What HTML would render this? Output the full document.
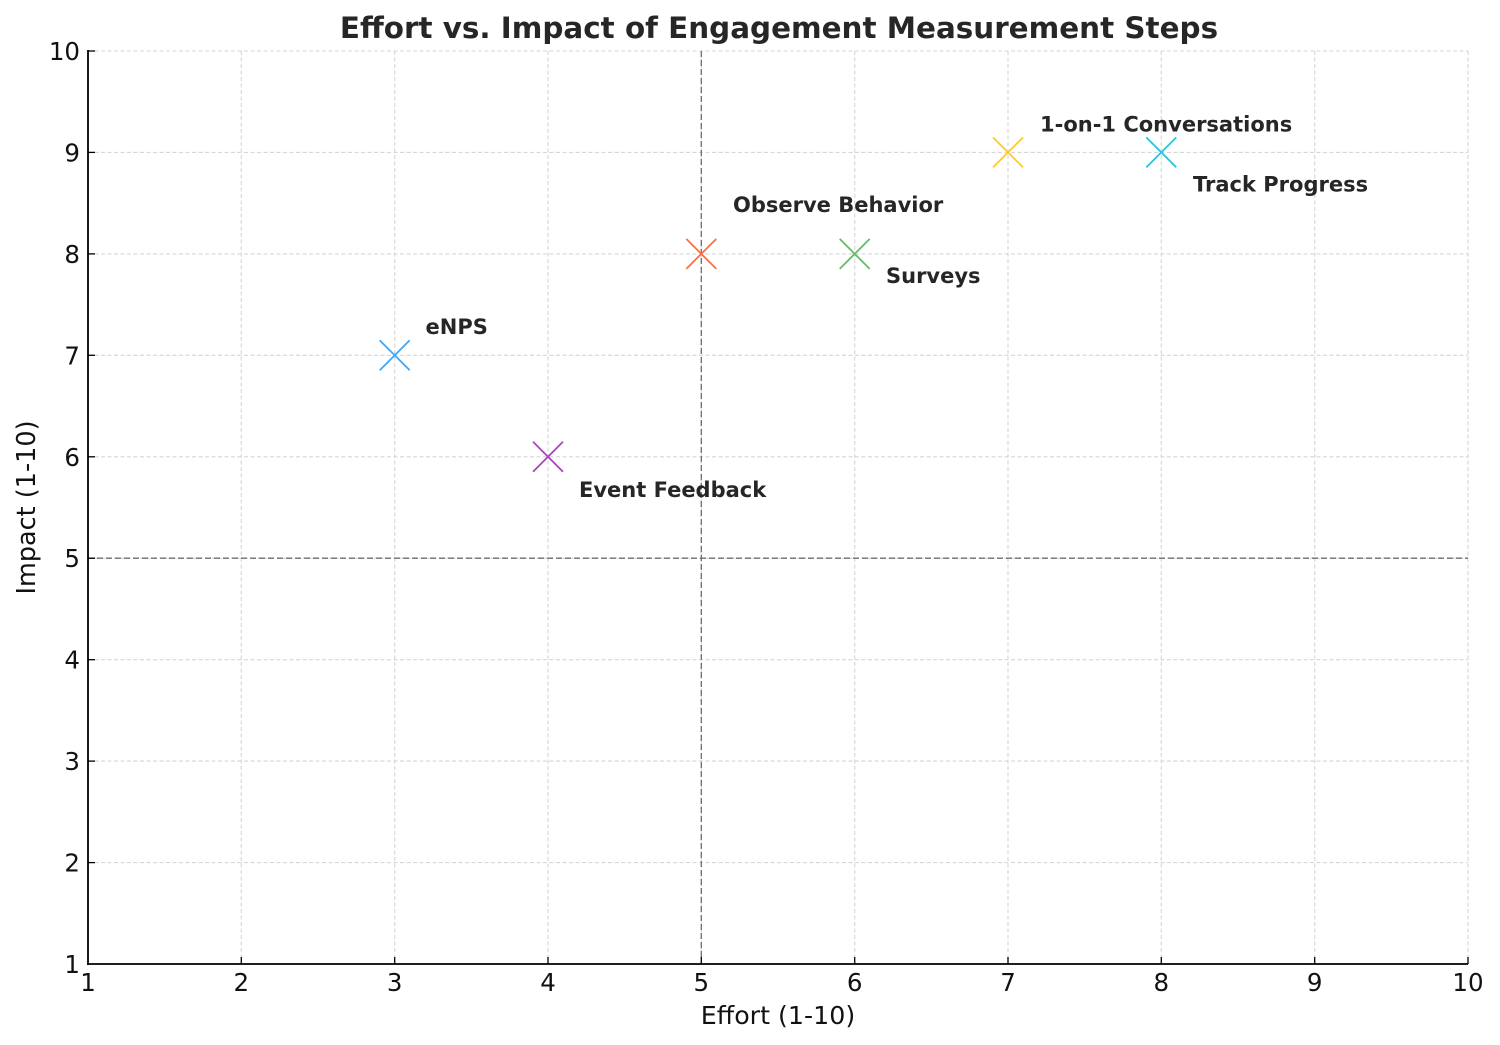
<!DOCTYPE html>
<html>
<head>
<meta charset="utf-8">
<style>
html,body{margin:0;padding:0;background:#fff;}
svg{display:block;}
text{font-family:"DejaVu Sans","Liberation Sans",sans-serif;}
</style>
</head>
<body>
<svg width="1500" height="1045" viewBox="0 0 1500 1045" xmlns="http://www.w3.org/2000/svg">
<rect width="1500" height="1045" fill="#fff"/>
<!-- grid -->
<g stroke="#d6d6d6" stroke-width="1.1" stroke-dasharray="4,2.5" fill="none">
<line x1="241.3" y1="51" x2="241.3" y2="964"/>
<line x1="394.7" y1="51" x2="394.7" y2="964"/>
<line x1="548" y1="51" x2="548" y2="964"/>
<line x1="701.3" y1="51" x2="701.3" y2="964"/>
<line x1="854.7" y1="51" x2="854.7" y2="964"/>
<line x1="1008" y1="51" x2="1008" y2="964"/>
<line x1="1161.3" y1="51" x2="1161.3" y2="964"/>
<line x1="1314.7" y1="51" x2="1314.7" y2="964"/>
<line x1="1468" y1="51" x2="1468" y2="964"/>
<line x1="88" y1="51" x2="1468" y2="51"/>
<line x1="88" y1="152.4" x2="1468" y2="152.4"/>
<line x1="88" y1="253.9" x2="1468" y2="253.9"/>
<line x1="88" y1="355.3" x2="1468" y2="355.3"/>
<line x1="88" y1="456.8" x2="1468" y2="456.8"/>
<line x1="88" y1="558.2" x2="1468" y2="558.2"/>
<line x1="88" y1="659.7" x2="1468" y2="659.7"/>
<line x1="88" y1="761.1" x2="1468" y2="761.1"/>
<line x1="88" y1="862.6" x2="1468" y2="862.6"/>
</g>
<!-- reference lines -->
<g stroke="#6e6e6e" stroke-width="1.3" stroke-dasharray="6,3" fill="none">
<line x1="701.3" y1="51" x2="701.3" y2="964"/>
<line x1="88" y1="558.2" x2="1468" y2="558.2"/>
</g>
<!-- spines -->
<g stroke="#000" stroke-width="1.8" fill="none">
<line x1="88" y1="50" x2="88" y2="965"/>
<line x1="87" y1="964" x2="1468" y2="964"/>
</g>
<!-- ticks (inward) -->
<g stroke="#000" stroke-width="1.3">
<line x1="241.3" y1="964" x2="241.3" y2="957"/>
<line x1="394.7" y1="964" x2="394.7" y2="957"/>
<line x1="548" y1="964" x2="548" y2="957"/>
<line x1="701.3" y1="964" x2="701.3" y2="957"/>
<line x1="854.7" y1="964" x2="854.7" y2="957"/>
<line x1="1008" y1="964" x2="1008" y2="957"/>
<line x1="1161.3" y1="964" x2="1161.3" y2="957"/>
<line x1="1314.7" y1="964" x2="1314.7" y2="957"/>
<line x1="1468" y1="964" x2="1468" y2="957"/>
<line x1="88" y1="51" x2="95" y2="51"/>
<line x1="88" y1="152.4" x2="95" y2="152.4"/>
<line x1="88" y1="253.9" x2="95" y2="253.9"/>
<line x1="88" y1="355.3" x2="95" y2="355.3"/>
<line x1="88" y1="456.8" x2="95" y2="456.8"/>
<line x1="88" y1="558.2" x2="95" y2="558.2"/>
<line x1="88" y1="659.7" x2="95" y2="659.7"/>
<line x1="88" y1="761.1" x2="95" y2="761.1"/>
<line x1="88" y1="862.6" x2="95" y2="862.6"/>
</g>
<!-- x tick labels -->
<g font-size="24.5" fill="#111" text-anchor="middle">
<text x="88" y="991">1</text>
<text x="241.3" y="991">2</text>
<text x="394.7" y="991">3</text>
<text x="548" y="991">4</text>
<text x="701.3" y="991">5</text>
<text x="854.7" y="991">6</text>
<text x="1008" y="991">7</text>
<text x="1161.3" y="991">8</text>
<text x="1314.7" y="991">9</text>
<text x="1468" y="991">10</text>
</g>
<!-- y tick labels -->
<g font-size="24.5" fill="#111" text-anchor="end">
<text x="80" y="60">10</text>
<text x="80" y="161.4">9</text>
<text x="80" y="262.9">8</text>
<text x="80" y="364.3">7</text>
<text x="80" y="465.8">6</text>
<text x="80" y="567.2">5</text>
<text x="80" y="668.7">4</text>
<text x="80" y="770.1">3</text>
<text x="80" y="871.6">2</text>
<text x="80" y="973">1</text>
</g>
<!-- axis labels -->
<text x="778" y="1024" font-size="25.3" fill="#111" text-anchor="middle">Effort (1-10)</text>
<text transform="translate(35,507.5) rotate(-90)" font-size="25.5" fill="#111" text-anchor="middle">Impact (1-10)</text>
<!-- title -->
<text x="779" y="38" font-size="29.4" font-weight="bold" fill="#262626" text-anchor="middle">Effort vs. Impact of Engagement Measurement Steps</text>
<!-- markers -->
<g stroke-width="1.8" fill="none">
<path d="M379.7,340.3 L409.7,370.3 M379.7,370.3 L409.7,340.3" stroke="#42A5F5"/>
<path d="M533,441.8 L563,471.8 M533,471.8 L563,441.8" stroke="#AB47BC"/>
<path d="M686.3,238.9 L716.3,268.9 M686.3,268.9 L716.3,238.9" stroke="#FF7043"/>
<path d="M839.7,238.9 L869.7,268.9 M839.7,268.9 L869.7,238.9" stroke="#66BB6A"/>
<path d="M993,137.4 L1023,167.4 M993,167.4 L1023,137.4" stroke="#FFCA28"/>
<path d="M1146.3,137.4 L1176.3,167.4 M1146.3,167.4 L1176.3,137.4" stroke="#26C6DA"/>
</g>
<!-- annotations -->
<g font-size="21" font-weight="bold" fill="#262626">
<text x="425.5" y="334">eNPS</text>
<text x="579" y="497">Event Feedback</text>
<text x="733" y="212">Observe Behavior</text>
<text x="886" y="283">Surveys</text>
<text x="1040" y="131.5">1-on-1 Conversations</text>
<text x="1193" y="191.5">Track Progress</text>
</g>
</svg>
</body>
</html>
